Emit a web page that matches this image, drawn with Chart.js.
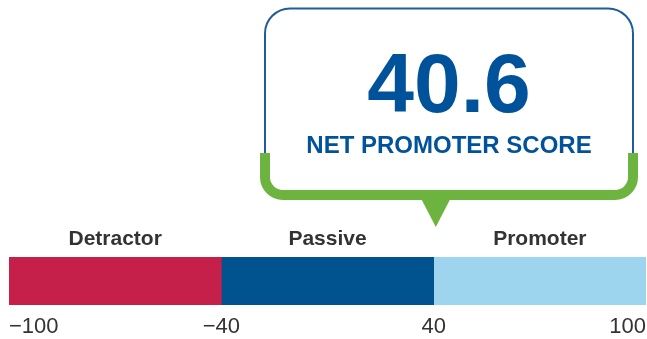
<!DOCTYPE html>
<html>
<head>
<meta charset="utf-8">
<script src="https://cdn.jsdelivr.net/npm/chart.js@4.4.1/dist/chart.umd.min.js"></script>
<style>
  html, body { margin: 0; padding: 0; background: #fff; }
</style>
</head>
<body>
<canvas id="NPS_Chart" width="647" height="339"></canvas>
<script>
// Zones en grenzen van de NPS-schaal
var zones = ['Detractor', 'Passive', 'Promoter'];
var grenzen = [-100, -40, 40, 100];
var tickLabels = ['\u2212100', '\u221240', '40', '100'];
var kleuren = ['#c4204a', '#00538f', '#9dd5ee'];
var score = 40.6;
var scoreTitel = 'NET PROMOTER SCORE';

var lettertype = '"Liberation Sans", Arial, sans-serif';

// Elke zone krijgt even veel ruimte op de as
function positie(waarde) {
    for (var i = 0; i < grenzen.length - 1; i++) {
        if (waarde <= grenzen[i + 1]) {
            return i + (waarde - grenzen[i]) / (grenzen[i + 1] - grenzen[i]);
        }
    }
    return grenzen.length - 1;
}

// Labels boven de balk en het tekstballon met de score
var npsTekening = {
    id: 'npsTekening',
    afterDraw: function (chart) {
        var ctx = chart.ctx;
        var xAs = chart.scales.x;

        ctx.save();
        ctx.font = 'bold 21px ' + lettertype;
        ctx.fillStyle = '#333333';
        ctx.textAlign = 'center';
        ctx.textBaseline = 'middle';
        zones.forEach(function (zone, i) {
            var midden = (xAs.getPixelForValue(positie(grenzen[i])) + xAs.getPixelForValue(positie(grenzen[i + 1]))) / 2;
            ctx.fillText(zone, midden, 239);
        });

        // Ballon
        var links = 265, rechts = 633, boven = 8.5, groenStart = 153, onder = 195;
        var r = 25, r2 = 18;

        ctx.beginPath();
        ctx.moveTo(links, groenStart);
        ctx.lineTo(links, boven + r);
        ctx.arcTo(links, boven, links + r, boven, r);
        ctx.lineTo(rechts - r, boven);
        ctx.arcTo(rechts, boven, rechts, boven + r, r);
        ctx.lineTo(rechts, groenStart);
        ctx.strokeStyle = '#1f5d99';
        ctx.lineWidth = 2;
        ctx.stroke();

        ctx.beginPath();
        ctx.moveTo(links, groenStart);
        ctx.lineTo(links, onder - r2);
        ctx.arcTo(links, onder, links + r2, onder, r2);
        ctx.lineTo(rechts - r2, onder);
        ctx.arcTo(rechts, onder, rechts, onder - r2, r2);
        ctx.lineTo(rechts, groenStart);
        ctx.strokeStyle = '#6db33f';
        ctx.lineWidth = 10;
        ctx.lineCap = 'butt';
        ctx.stroke();

        // Pijltje naar de score op de as
        var px = xAs.getPixelForValue(positie(score));
        ctx.beginPath();
        ctx.moveTo(px - 15, onder + 3);
        ctx.lineTo(px + 15, onder + 3);
        ctx.lineTo(px, 227);
        ctx.closePath();
        ctx.fillStyle = '#6db33f';
        ctx.fill();

        var tekstX = (links + rechts) / 2;
        ctx.fillStyle = '#00539b';
        ctx.textBaseline = 'alphabetic';
        ctx.font = 'bold 84px ' + lettertype;
        ctx.fillText(score.toFixed(1), tekstX, 112);
        ctx.font = 'bold 24px ' + lettertype;
        ctx.fillText(scoreTitel, tekstX, 153);
        ctx.restore();
    }
};

function tekenNpsGrafiek() {
    var ctx = document.getElementById('NPS_Chart').getContext('2d');
    return new Chart(ctx, {
        type: 'bar',
        data: {
            labels: [''],
            datasets: zones.map(function (zone, i) {
                return {
                    label: zone,
                    data: [[positie(grenzen[i]), positie(grenzen[i + 1])]],
                    backgroundColor: kleuren[i],
                    borderWidth: 0,
                    grouped: false,
                    barThickness: 48
                };
            })
        },
        options: {
            indexAxis: 'y',
            responsive: false,
            animation: false,
            devicePixelRatio: 1,
            layout: { padding: { left: 9, right: 1, top: 257, bottom: 0 } },
            scales: {
                x: {
                    type: 'linear',
                    min: 0,
                    max: grenzen.length - 1,
                    afterBuildTicks: function (as) {
                        as.ticks = grenzen.map(function (g, i) { return { value: i }; });
                    },
                    afterFit: function (as) {
                        as.height = 34;
                        as.paddingLeft = 0;
                        as.paddingRight = 0;
                    },
                    ticks: {
                        align: 'inner',
                        autoSkip: false,
                        maxRotation: 0,
                        padding: 9,
                        color: '#333333',
                        font: { family: lettertype, size: 22 },
                        callback: function (waarde) { return tickLabels[waarde]; }
                    },
                    grid: { display: false, drawTicks: false },
                    border: { display: false }
                },
                y: { display: false }
            },
            plugins: {
                legend: { display: false },
                tooltip: { enabled: false }
            }
        },
        plugins: [npsTekening]
    });
}

tekenNpsGrafiek();
</script>
</body>
</html>
